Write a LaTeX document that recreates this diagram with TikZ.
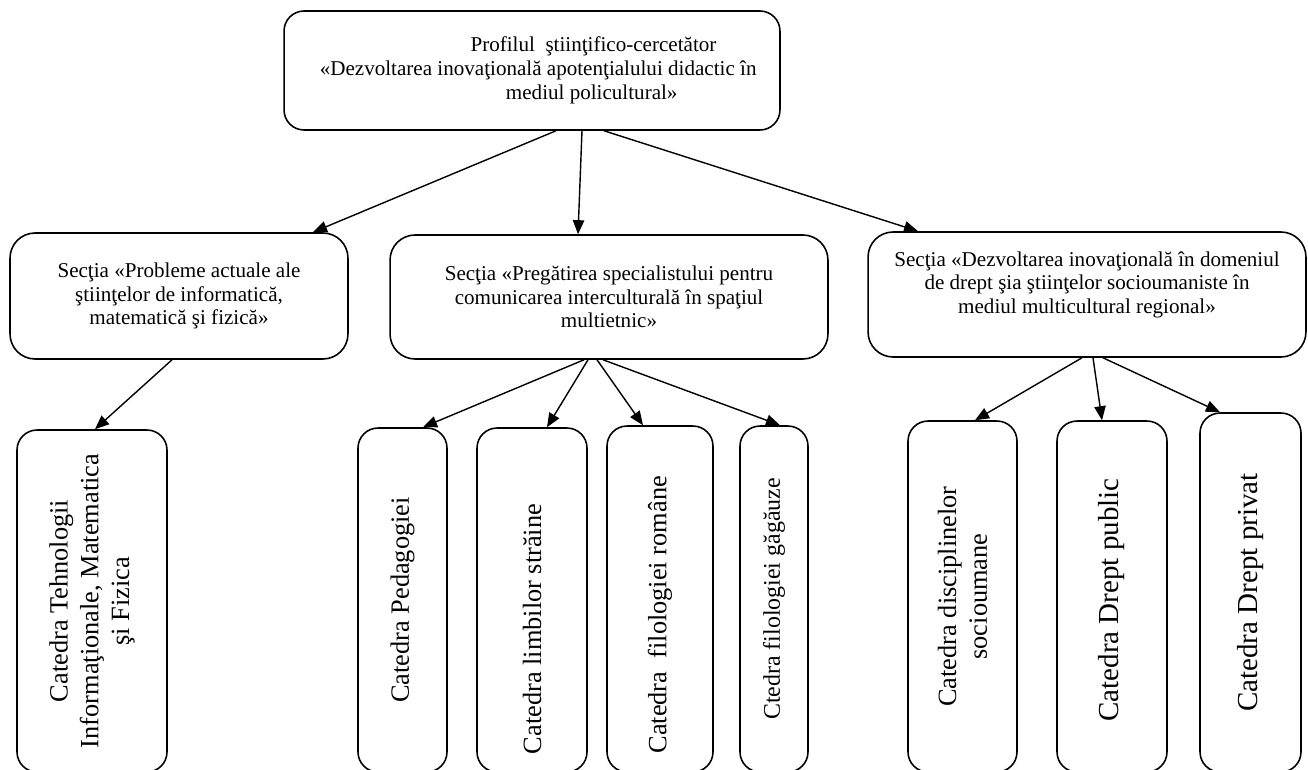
\documentclass[tikz,border=0pt]{standalone}
\usepackage{fontspec}
\setmainfont{Liberation Serif}
\usetikzlibrary{arrows.meta}

\begin{document}
\begin{tikzpicture}[x=0.02cm, y=-0.02cm, >={Triangle[length=8pt,width=6.5pt]},
	box/.style={draw, line width=0.9pt, rounded corners=0.5cm, align=center, font=\fontsize{12}{13.5}\selectfont},
	catbox/.style={draw, line width=0.9pt, rounded corners=0.4cm, rotate=90, align=center, font=\fontsize{15}{17.5}\selectfont},
	link/.style={->, line width=0.8pt}]
	\useasboundingbox (0,0) rectangle (1308,770);

	% profil
	\node[box, rounded corners=0.4cm, font=\fontsize{12}{13.8}\selectfont, minimum width=9.92cm, minimum height=2.38cm] (profil) at (532,70.5)
		{\hspace*{70pt}Profilul\ \ ştiinţifico-cercetător\\\hspace*{7pt}«Dezvoltarea inovaţională apotenţialului didactic în\\\hspace*{68pt}mediul policultural»};

	% sectii
	\node[box, minimum width=6.76cm, minimum height=2.52cm] (secInfo) at (179,296)
		{Secţia «Probleme actuale ale\\ştiinţelor de informatică,\\matematică şi fizică»};
	\node[box, minimum width=8.76cm, minimum height=2.48cm] (secComun) at (609,297)
		{Secţia «Pregătirea specialistului pentru\\comunicarea interculturală în spaţiul\\multietnic»};
	\node[box, minimum width=8.76cm, minimum height=2.5cm] (secDrept) at (1087,294.5)
		{Secţia «Dezvoltarea inovaţională în domeniul\\de drept şia ştiinţelor socioumaniste în\\mediul multicultural regional»\\~};

	% catedre
	\node[catbox, minimum width=6.84cm, minimum height=3cm] (catTIM) at (92,601)
		{Catedra Tehnologii\\Informaţionale, Matematica\\şi Fizica};
	\node[catbox, minimum width=6.88cm, minimum height=1.78cm] (catPed) at (402.5,600)
		{Catedra Pedagogiei};
	\node[catbox, minimum width=6.88cm, minimum height=2.2cm] (catLimb) at (532,600)
		{Catedra limbilor străine\hspace*{33pt}};
	\node[catbox, minimum width=6.92cm, minimum height=2.12cm] (catRom) at (660,599)
		{Catedra\ \ filologiei române\hspace*{18pt}};
	\node[catbox, font=\fontsize{13.6}{16}\selectfont, minimum width=6.92cm, minimum height=1.36cm] (catGag) at (774,599)
		{Ctedra filologiei găgăuze};
	\node[catbox, minimum width=7.02cm, minimum height=2.18cm] (catSocio) at (962.5,596.5)
		{Catedra disciplinelor\\socioumane};
	\node[catbox, font=\fontsize{16.5}{19}\selectfont, minimum width=7.02cm, minimum height=2.2cm] (catPublic) at (1112,596.5)
		{Catedra Drept public\hspace*{4pt}};
	\node[catbox, font=\fontsize{16.5}{19}\selectfont, minimum width=7.18cm, minimum height=2.02cm] (catPrivat) at (1250.5,592.5)
		{Catedra Drept privat};

	% sageti
	\draw[link] ([xshift=0.48cm]profil.south) -- ([xshift=2.68cm]secInfo.north);
	\draw[link] ([xshift=1cm]profil.south) -- ([xshift=-0.62cm]secComun.north);
	\draw[link] ([xshift=1.44cm]profil.south) -- ([xshift=-3.38cm]secDrept.north);

	\draw[link] ([xshift=-0.14cm]secInfo.south) -- ([xshift=0.06cm]catTIM.east);

	\draw[link] ([xshift=-0.5cm]secComun.south) -- ([xshift=0.41cm]catPed.east);
	\draw[link] ([xshift=-0.42cm]secComun.south) -- ([xshift=0.3cm]catLimb.east);
	\draw[link] ([xshift=-0.24cm]secComun.south) -- ([xshift=-0.34cm]catRom.east);
	\draw[link] ([xshift=-0.12cm]secComun.south) -- ([xshift=0.12cm]catGag.east);

	\draw[link] ([xshift=-0.1cm]secDrept.south) -- ([xshift=0.25cm]catSocio.east);
	\draw[link] ([xshift=0.12cm]secDrept.south) -- ([xshift=-0.2cm]catPublic.east);
	\draw[link] ([xshift=0.32cm]secDrept.south) -- ([xshift=-0.61cm]catPrivat.east);
\end{tikzpicture}
\end{document}
